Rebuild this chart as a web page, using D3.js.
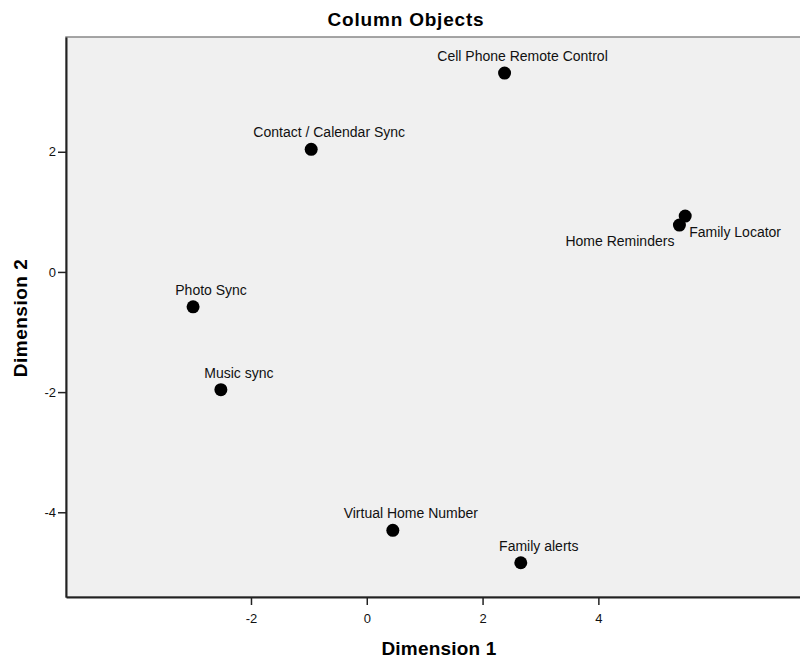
<!DOCTYPE html>
<html>
<head>
<meta charset="utf-8">
<script src="https://cdn.jsdelivr.net/npm/d3@7"></script>
<style>
  body { margin: 0; background: #fff; }
  svg { display: block; font-family: "Liberation Sans", Arial, sans-serif; }
</style>
</head>
<body>
<svg id="chart" width="800" height="660"></svg>
<script>
// ---- data ----
const labels = ["Cell Phone Remote Control", "Contact / Calendar Sync", "Home Reminders", "Family Locator",
                "Photo Sync", "Music sync", "Virtual Home Number", "Family alerts"];
const dim1 = [2.38, -0.96, 5.40, 5.50, -3.00, -2.52, 0.45, 2.66];
const dim2 = [3.31, 2.04, 0.78, 0.93, -0.58, -1.96, -4.30, -4.84];
const xTicks = [-2, 0, 2, 4];
const yTicks = [-4, -2, 0, 2];
const title = "Column Objects";
const xTitle = "Dimension 1";
const yTitle = "Dimension 2";

// ---- layout ----
const svg = d3.select("#chart");
const plot = { left: 66, top: 37, right: 812, bottom: 597 };

const x = d3.scaleLinear().domain([-5.195, 7.69]).range([plot.left, plot.right]);
const y = d3.scaleLinear().domain([-5.41, 3.91]).range([plot.bottom, plot.top]);

// label placement (style only)
const labelPlacement = {
  "Home Reminders": { dx: -5, dy: 21, anchor: "end" },
  "Family Locator": { dx: 4, dy: 21, anchor: "start" }
};

// plot background
svg.append("rect")
  .attr("x", plot.left).attr("y", plot.top)
  .attr("width", plot.right - plot.left).attr("height", plot.bottom - plot.top)
  .attr("fill", "#f0f0f0").attr("stroke", "#888").attr("stroke-width", 1.5);

// axes
const xAxis = d3.axisBottom(x).tickValues(xTicks).tickSize(8).tickSizeOuter(0);
const yAxis = d3.axisLeft(y).tickValues(yTicks).tickSize(8).tickSizeOuter(0);

const gx = svg.append("g").attr("transform", `translate(0,${plot.bottom})`).call(xAxis);
const gy = svg.append("g").attr("transform", `translate(${plot.left},0)`).call(yAxis);

[gx, gy].forEach(g => {
  g.select(".domain").attr("stroke", "#222").attr("stroke-width", 2);
  g.selectAll(".tick line").attr("stroke", "#222").attr("stroke-width", 1.5);
  g.selectAll(".tick text").attr("fill", "#111").style("font-size", "13px")
    .style("font-family", "'Liberation Sans', Arial, sans-serif")
    .text(d => d < 0 ? "-" + Math.abs(d) : String(d));
});
gx.selectAll(".tick text").attr("dy", "0").attr("y", 26);
gy.selectAll(".tick text").attr("x", -10);

// points
const pts = labels.map((l, i) => ({ label: l, d1: dim1[i], d2: dim2[i] }));

svg.append("g").selectAll("circle").data(pts).join("circle")
  .attr("cx", d => x(d.d1)).attr("cy", d => y(d.d2))
  .attr("r", 6.5).attr("fill", "#000");

svg.append("g").selectAll("text").data(pts).join("text")
  .attr("x", d => x(d.d1) + (labelPlacement[d.label] ? labelPlacement[d.label].dx : 18))
  .attr("y", d => y(d.d2) + (labelPlacement[d.label] ? labelPlacement[d.label].dy : -12))
  .attr("text-anchor", d => labelPlacement[d.label] ? labelPlacement[d.label].anchor : "middle")
  .style("font-size", "14px").attr("fill", "#111")
  .text(d => d.label);

// titles
svg.append("text").attr("x", 406).attr("y", 26).attr("text-anchor", "middle")
  .style("font-size", "19px").style("font-weight", "bold").style("letter-spacing", "0.8px")
  .attr("fill", "#000").text(title);

svg.append("text").attr("x", 439).attr("y", 655).attr("text-anchor", "middle")
  .style("font-size", "19px").style("font-weight", "bold").style("letter-spacing", "0.2px")
  .attr("fill", "#000").text(xTitle);

svg.append("text").attr("transform", "translate(27,318) rotate(-90)").attr("text-anchor", "middle")
  .style("font-size", "19px").style("font-weight", "bold").style("letter-spacing", "0.5px")
  .attr("fill", "#000").text(yTitle);
</script>
</body>
</html>
